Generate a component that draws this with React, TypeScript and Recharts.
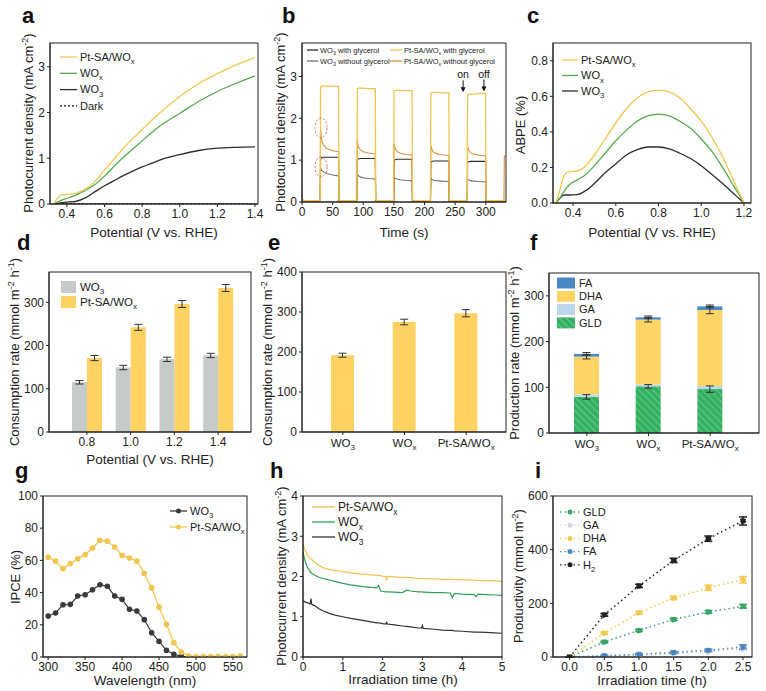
import React from 'react';
import { LineChart, Line, BarChart, Bar, XAxis, YAxis, ErrorBar, ReferenceDot } from 'recharts';

const FONT = '"Liberation Sans", Arial, Helvetica, sans-serif';
const INK = '#222222';

// ---------- panel a : LSV ----------
const aPot = [0.33, 0.35, 0.37, 0.40, 0.45, 0.50, 0.55, 0.60, 0.65, 0.70, 0.75, 0.80, 0.85, 0.90, 1.00, 1.10, 1.20, 1.30, 1.40];
const aPtSA = [0.0, 0.12, 0.20, 0.21, 0.24, 0.33, 0.50, 0.74, 0.98, 1.22, 1.43, 1.63, 1.83, 2.01, 2.35, 2.63, 2.85, 3.04, 3.20];
const aWOx = [0.0, 0.04, 0.08, 0.12, 0.20, 0.30, 0.43, 0.61, 0.82, 1.02, 1.20, 1.38, 1.56, 1.72, 1.98, 2.24, 2.46, 2.64, 2.80];
const aWO3 = [0.0, 0.01, 0.03, 0.04, 0.06, 0.14, 0.27, 0.40, 0.51, 0.62, 0.72, 0.81, 0.89, 0.97, 1.08, 1.17, 1.22, 1.24, 1.25];
const aDark = [0.0, 0.01, 0.01, 0.01, 0.01, 0.01, 0.01, 0.01, 0.01, 0.01, 0.01, 0.01, 0.01, 0.01, 0.01, 0.01, 0.01, 0.01, 0.01];

// ---------- panel b : chopped light ----------
const bTime = [0, 0.5, 3,
  29.7, 30.3, 32, 35, 40, 48, 59.7, 60.3, 63,
  89.7, 90.3, 92, 95, 100, 108, 119.7, 120.3, 123,
  149.7, 150.3, 152, 155, 160, 168, 179.7, 180.3, 183,
  209.7, 210.3, 212, 215, 220, 228, 239.7, 240.3, 243,
  269.7, 270.3, 272, 275, 280, 288, 299.7, 300.3, 303,
  329.7, 330.3, 333];
const bPtWith = [0.32, 0.08, 0.03,
  0.03, 2.74, 2.77, 2.77, 2.77, 2.77, 2.76, 0.06, 0.03,
  0.03, 2.70, 2.72, 2.72, 2.72, 2.71, 2.71, 0.06, 0.03,
  0.03, 2.65, 2.67, 2.67, 2.67, 2.66, 2.66, 0.06, 0.03,
  0.03, 2.60, 2.62, 2.62, 2.62, 2.61, 2.61, 0.06, 0.03,
  0.03, 2.56, 2.57, 2.58, 2.58, 2.59, 2.60, 0.06, 0.03,
  0.03, 0.03, 0.03];
const bWO3With = [0.12, 0.03, 0.02,
  0.02, 1.02, 1.06, 1.07, 1.07, 1.07, 1.07, 0.03, 0.02,
  0.02, 1.00, 1.03, 1.04, 1.04, 1.04, 1.04, 0.03, 0.02,
  0.02, 0.98, 1.01, 1.02, 1.02, 1.02, 1.02, 0.03, 0.02,
  0.02, 0.95, 0.97, 0.98, 0.98, 0.98, 0.98, 0.03, 0.02,
  0.02, 0.94, 0.96, 0.97, 0.97, 0.97, 0.97, 0.03, 0.02,
  0.02, 0.02, 0.02];
const bWO3Without = [0.08, 0.02, 0.01,
  0.01, 0.82, 0.76, 0.72, 0.68, 0.65, 0.62, 0.02, 0.01,
  0.01, 0.67, 0.63, 0.60, 0.58, 0.56, 0.55, 0.02, 0.01,
  0.01, 0.60, 0.57, 0.55, 0.53, 0.52, 0.51, 0.02, 0.01,
  0.01, 0.57, 0.54, 0.52, 0.51, 0.50, 0.49, 0.02, 0.01,
  0.01, 0.55, 0.53, 0.51, 0.50, 0.49, 0.48, 0.02, 0.01,
  0.01, 0.01, 0.01];
const bPtWithout = [0.18, 0.04, 0.02,
  0.02, 1.75, 1.48, 1.36, 1.28, 1.23, 1.20, 0.04, 0.02,
  0.02, 1.46, 1.32, 1.25, 1.20, 1.17, 1.15, 0.04, 0.02,
  0.02, 1.40, 1.28, 1.21, 1.17, 1.14, 1.12, 0.04, 0.02,
  0.02, 1.36, 1.25, 1.19, 1.15, 1.13, 1.11, 0.04, 0.02,
  0.02, 1.34, 1.24, 1.18, 1.14, 1.12, 1.10, 0.04, 0.02,
  0.02, 1.10, 1.10];

// ---------- panel c : ABPE ----------
const cPot = [0.32, 0.34, 0.36, 0.38, 0.42, 0.46, 0.50, 0.55, 0.60, 0.65, 0.70, 0.75, 0.80, 0.85, 0.90, 0.95, 1.00, 1.05, 1.10, 1.15, 1.20];
const cPtSA = [0, 0.08, 0.16, 0.175, 0.18, 0.21, 0.27, 0.36, 0.45, 0.53, 0.59, 0.625, 0.635, 0.625, 0.59, 0.53, 0.46, 0.37, 0.26, 0.13, 0];
const cWOx = [0, 0.03, 0.07, 0.10, 0.13, 0.16, 0.21, 0.28, 0.35, 0.41, 0.46, 0.49, 0.50, 0.49, 0.46, 0.42, 0.36, 0.29, 0.20, 0.10, 0];
const cWO3 = [0, 0.03, 0.045, 0.045, 0.047, 0.07, 0.11, 0.17, 0.22, 0.27, 0.30, 0.315, 0.315, 0.305, 0.28, 0.25, 0.21, 0.16, 0.11, 0.055, 0];

// ---------- panel d ----------
const dCats = ['0.8', '1.0', '1.2', '1.4'];
const dWO3 = [115, 149, 168, 177];
const dWO3Err = [4, 5, 5, 5];
const dPt = [171, 242, 296, 333];
const dPtErr = [6, 7, 8, 8];

// ---------- panel e ----------
const eCats = ['WO_{3}', 'WO_{x}', 'Pt-SA/WO_{x}'];
const eVal = [192, 275, 297];
const eErr = [5, 7, 9];

// ---------- panel f ----------
const fCats = ['WO_{3}', 'WO_{x}', 'Pt-SA/WO_{x}'];
const fGLD = [79, 102, 96];
const fGLDErr = [5, 4, 7];
const fGA = [5, 4, 7];
const fDHA = [83, 142, 166];
const fDHAErr = [5, 5, 8];
const fFA = [6, 5, 8];
const fFAErr = [3, 3, 3];

// ---------- panel g : IPCE ----------
const gWave = [300, 310, 320, 330, 340, 350, 360, 370, 380, 390, 400, 410, 420, 430, 440, 450, 460, 470, 480, 490, 500, 510, 520, 530, 540, 550, 560];
const gWO3 = [25.5, 27.3, 32.5, 32.7, 37.9, 38.7, 41.8, 44.9, 43.9, 37.9, 35.8, 29.6, 28.6, 23.2, 15.1, 9.7, 4.1, 1.7, 0.4, 0, null, null, null, null, null, null, null];
const gPt = [62, 59.6, 54.9, 58, 61, 63.6, 67.7, 72.5, 72, 68.3, 63.1, 61.5, 59.6, 51.8, 42.9, 31, 20.3, 8.9, 3.1, 0.6, 0.3, 0.3, 0.3, 0.3, 0.3, 0.3, 0.6];

// ---------- panel h : stability ----------
const hTime = [0, 0.05, 0.1, 0.18, 0.2, 0.22, 0.3, 0.4, 0.5, 0.6, 0.7, 0.8, 1.0, 1.2, 1.5, 1.85, 1.9, 1.95, 2.0, 2.08, 2.1, 2.12, 2.3, 2.5, 2.6, 2.7, 2.9, 2.98, 3.0, 3.02, 3.3, 3.5, 3.7, 3.75, 3.8, 4.0, 4.3, 4.35, 4.4, 4.6, 4.8, 5.0];
const hPt = [2.8, 2.65, 2.55, 2.45, 2.43, 2.42, 2.35, 2.28, 2.22, 2.19, 2.17, 2.15, 2.12, 2.09, 2.06, 2.03, 2.03, 2.02, 2.01, 2.0, 1.9, 2.0, 1.99, 1.98, 1.97, 1.97, 1.95, 1.95, 1.95, 1.95, 1.94, 1.93, 1.93, 1.93, 1.92, 1.92, 1.91, 1.91, 1.9, 1.9, 1.89, 1.88];
const hWOx = [2.6, 2.4, 2.25, 2.12, 2.1, 2.08, 2.03, 1.98, 1.95, 1.93, 1.9, 1.88, 1.83, 1.79, 1.75, 1.72, 1.78, 1.64, 1.63, 1.62, 1.62, 1.62, 1.61, 1.6, 1.66, 1.64, 1.62, 1.62, 1.62, 1.61, 1.6, 1.6, 1.59, 1.47, 1.58, 1.56, 1.55, 1.5, 1.56, 1.55, 1.54, 1.53];
const hWO3 = [1.4, 1.37, 1.35, 1.32, 1.45, 1.31, 1.27, 1.2, 1.15, 1.11, 1.07, 1.04, 1.0, 0.96, 0.91, 0.85, 0.85, 0.84, 0.83, 0.82, 0.86, 0.82, 0.8, 0.77, 0.76, 0.75, 0.72, 0.72, 0.78, 0.71, 0.69, 0.67, 0.66, 0.66, 0.65, 0.64, 0.62, 0.62, 0.62, 0.61, 0.6, 0.59];

// ---------- panel i : productivity ----------
const iTime = [0, 0.5, 1.0, 1.5, 2.0, 2.5];
const iGLD = [0, 56, 99, 140, 168, 189];
const iGLDErr = [1, 3, 4, 4, 5, 7];
const iGA = [0, 2, 6, 12, 20, 30];
const iGAErr = [0, 1, 1, 2, 2, 3];
const iDHA = [0, 89, 165, 220, 258, 288];
const iDHAErr = [1, 4, 5, 6, 10, 12];
const iFA = [0, 5, 10, 17, 25, 37];
const iFAErr = [0, 2, 2, 3, 4, 8];
const iH2 = [0, 157, 265, 360, 441, 507];
const iH2Err = [1, 5, 6, 8, 10, 15];

// ---------- tables ----------
const aData = aPot.map((p, i) => ({ p, pt: aPtSA[i], wox: aWOx[i], wo3: aWO3[i], dark: aDark[i] }));
const bData = bTime.map((t, i) => ({ t, ptW: bPtWith[i], wo3W: bWO3With[i], wo3N: bWO3Without[i], ptN: bPtWithout[i] }));
const cData = cPot.map((p, i) => ({ p, pt: cPtSA[i], wox: cWOx[i], wo3: cWO3[i] }));
const dData = dCats.map((c, i) => ({ c, wo3: dWO3[i], wo3e: dWO3Err[i], pt: dPt[i], pte: dPtErr[i] }));
const eData = eCats.map((c, i) => ({ c, v: eVal[i], e: eErr[i] }));
const fData = fCats.map((c, i) => ({ c, gld: fGLD[i], gldE: fGLDErr[i], ga: fGA[i], dha: fDHA[i], dhaE: fDHAErr[i], fa: fFA[i], faE: fFAErr[i] }));
const gData = gWave.map((w, i) => ({ w, wo3: gWO3[i], pt: gPt[i] }));
const hData = hTime.map((t, i) => ({ t, pt: hPt[i], wox: hWOx[i], wo3: hWO3[i] }));
const iData = iTime.map((t, i) => ({ t, gld: iGLD[i], gldE: iGLDErr[i], ga: iGA[i], gaE: iGAErr[i], dha: iDHA[i], dhaE: iDHAErr[i], fa: iFA[i], faE: iFAErr[i], h2: iH2[i], h2E: iH2Err[i] }));

// ---------- colours ----------
const C = {
  pt: '#f2c650', wox: '#54a94c', wo3: '#2d2d2d',
  bPtW: '#f3c34f', bPtN: '#dc8f3c', bWO3W: '#2b2b2b', bWO3N: '#707070',
  gray: '#c6cac9', yellow: '#fdd263',
  gld: '#34b062', gldLine: '#7bd198', ga: '#bcd6ec', dha: '#fdd466', fa: '#4a89c6',
  hPt: '#f0c24c', hWOx: '#2f9f5a', hWO3: '#333333',
  iGLD: '#3aa468', iGA: '#d3d7e0', iDHA: '#f5c94f', iFA: '#4a86c0', iH2: '#222222',
};

// ---------- layout ----------
type Rect = { x: number; y: number; w: number; h: number };
const rA: Rect = { x: 50, y: 43, w: 208, h: 161 };
const rB: Rect = { x: 302, y: 43, w: 204, h: 159 };
const rC: Rect = { x: 553, y: 43, w: 198, h: 160 };
const rD: Rect = { x: 49, y: 272, w: 202, h: 160 };
const rE: Rect = { x: 302, y: 272, w: 204, h: 160 };
const rF: Rect = { x: 549, y: 273, w: 210, h: 160 };
const rG: Rect = { x: 43, y: 496, w: 204, h: 161 };
const rH: Rect = { x: 303, y: 496, w: 199, h: 161 };
const rI: Rect = { x: 553, y: 496, w: 199, h: 161 };
const ML = 45, MT = 10, MR = 12, MB = 26;

const dims = (r: Rect) => ({ width: r.w + ML + MR, height: r.h + MT + MB, margin: { top: MT, right: MR, bottom: 0, left: 0 } });
const Holder = ({ r, children }: { r: Rect; children: React.ReactNode }) => (
  <div style={{ position: 'absolute', left: r.x - ML, top: r.y - MT }}>{children}</div>
);

const TICK = { fontSize: 12, fill: INK, fontFamily: FONT };
const ax = { stroke: INK, tick: TICK, tickSize: 3, tickMargin: 2, interval: 0 as const };
const f1 = (v: number) => v.toFixed(1);

function rich(text: string, fs: number) {
  const out: React.ReactNode[] = [];
  const re = /([_^])\{([^}]*)\}/g;
  let last = 0, cur = 0, k = 0;
  let m: RegExpExecArray | null;
  const push = (s: string, target: number, size: number) => {
    out.push(<tspan key={k++} dy={target - cur} fontSize={size}>{s}</tspan>);
    cur = target;
  };
  while ((m = re.exec(text))) {
    if (m.index > last) push(text.slice(last, m.index), 0, fs);
    push(m[2], m[1] === '_' ? fs * 0.3 : -fs * 0.4, fs * 0.7);
    last = re.lastIndex;
  }
  if (last < text.length) push(text.slice(last), 0, fs);
  return out;
}

const ChemTick = (props: any) => {
  const { x, y, payload } = props;
  return (
    <text x={x} y={y + 9.5} textAnchor="middle" fontSize={11.5} fill={INK} fontFamily={FONT}>
      {rich(String(payload.value), 11.5)}
    </text>
  );
};

type LegItem = { label: string; color: string; kind?: 'line' | 'rect'; dash?: string; marker?: boolean; fill?: string };
function Leg({ x, y, rowH, fs, sw, sh = 10, gap = 3, items }: { x: number; y: number; rowH: number; fs: number; sw: number; sh?: number; gap?: number; items: LegItem[] }) {
  return (
    <g>
      {items.map((it, i) => {
        const cy = y + i * rowH;
        return (
          <g key={i}>
            {it.kind === 'rect'
              ? <rect x={x} y={cy - sh / 2} width={sw} height={sh} fill={it.fill ?? it.color} />
              : <line x1={x} x2={x + sw} y1={cy} y2={cy} stroke={it.color} strokeWidth={1.3} strokeDasharray={it.dash} />}
            {it.marker && <circle cx={x + sw / 2} cy={cy} r={2.5} fill={it.color} />}
            <text x={x + sw + gap} y={cy + fs * 0.35} fontSize={fs} fill={INK} fontFamily={FONT}>{rich(it.label, fs)}</text>
          </g>
        );
      })}
    </g>
  );
}

const YTitle = ({ cx, cy, text }: { cx: number; cy: number; text: string }) => (
  <text transform={`translate(${cx},${cy}) rotate(-90)`} x={0} y={4.4} textAnchor="middle" fontSize={13} fill={INK} fontFamily={FONT}>{rich(text, 13)}</text>
);
const XTitle = ({ cx, y, text }: { cx: number; y: number; text: string }) => (
  <text x={cx} y={y} textAnchor="middle" fontSize={13.5} fill={INK} fontFamily={FONT}>{text}</text>
);
const PLabel = ({ x, y, t }: { x: number; y: number; t: string }) => (
  <text x={x} y={y} fontSize={22} fontWeight="bold" fill="#111" fontFamily={FONT}>{t}</text>
);

const Ellipse = (p: any) => <ellipse cx={p.cx} cy={p.cy} rx={6} ry={10} fill="none" stroke="#d9534f" strokeWidth={0.9} strokeDasharray="2 2" />;
const Arrow = (label: string) => (p: any) => (
  <g>
    <line x1={p.cx} x2={p.cx} y1={p.cy - 12} y2={p.cy - 4} stroke="#111" strokeWidth={1} />
    <polygon points={`${p.cx - 2.5},${p.cy - 5} ${p.cx + 2.5},${p.cy - 5} ${p.cx},${p.cy}`} fill="#111" />
    <text x={p.cx} y={p.cy - 14} textAnchor="middle" fontSize={10.5} fill="#111" fontFamily={FONT}>{label}</text>
  </g>
);

export default function App() {
  const frames = [rA, rB, rC, rD, rE, rF, rG, rH, rI];
  return (
    <div style={{ position: 'absolute', left: 0, top: 0, width: 766, height: 691, background: '#fff', fontFamily: FONT, overflow: 'hidden' }}>
      <svg width={0} height={0} style={{ position: 'absolute' }}>
        <defs>
          <pattern id="gldHatch" patternUnits="userSpaceOnUse" width={5} height={5} patternTransform="rotate(-45)">
            <rect width={5} height={5} fill={C.gld} />
            <line x1={0} y1={0} x2={0} y2={5} stroke={C.gldLine} strokeWidth={1.4} />
          </pattern>
        </defs>
      </svg>

      {/* a */}
      <Holder r={rA}>
        <LineChart {...dims(rA)} data={aData}>
          <XAxis type="number" dataKey="p" domain={[0.31, 1.416]} ticks={[0.4, 0.6, 0.8, 1.0, 1.2, 1.4]} tickFormatter={f1} allowDataOverflow height={MB} {...ax} />
          <YAxis type="number" domain={[0, 3.52]} ticks={[0, 1, 2, 3]} allowDataOverflow width={ML} {...ax} />
          <Line dataKey="dark" stroke="#111" strokeDasharray="2 2" dot={false} strokeWidth={1.2} isAnimationActive={false} />
          <Line type="monotone" dataKey="wo3" stroke={C.wo3} dot={false} strokeWidth={1.3} isAnimationActive={false} />
          <Line type="monotone" dataKey="wox" stroke={C.wox} dot={false} strokeWidth={1.3} isAnimationActive={false} />
          <Line type="monotone" dataKey="pt" stroke={C.pt} dot={false} strokeWidth={1.3} isAnimationActive={false} />
        </LineChart>
      </Holder>

      {/* b */}
      <Holder r={rB}>
        <LineChart {...dims(rB)} data={bData}>
          <XAxis type="number" dataKey="t" domain={[0, 333]} ticks={[0, 50, 100, 150, 200, 250, 300]} allowDataOverflow height={MB} {...ax} />
          <YAxis type="number" domain={[0, 3.8]} ticks={[0, 1, 2, 3]} allowDataOverflow width={ML} {...ax} />
          <Line dataKey="wo3N" stroke={C.bWO3N} dot={false} strokeWidth={1.1} isAnimationActive={false} />
          <Line dataKey="wo3W" stroke={C.bWO3W} dot={false} strokeWidth={1.1} isAnimationActive={false} />
          <Line dataKey="ptN" stroke={C.bPtN} dot={false} strokeWidth={1.1} isAnimationActive={false} />
          <Line dataKey="ptW" stroke={C.bPtW} dot={false} strokeWidth={1.3} isAnimationActive={false} />
          <ReferenceDot x={31} y={1.77} r={6} shape={Ellipse} />
          <ReferenceDot x={31} y={0.84} r={6} shape={Ellipse} />
          <ReferenceDot x={263} y={2.62} r={3} shape={Arrow('on')} />
          <ReferenceDot x={297} y={2.64} r={3} shape={Arrow('off')} />
        </LineChart>
      </Holder>

      {/* c */}
      <Holder r={rC}>
        <LineChart {...dims(rC)} data={cData}>
          <XAxis type="number" dataKey="p" domain={[0.306, 1.233]} ticks={[0.4, 0.6, 0.8, 1.0, 1.2]} tickFormatter={f1} allowDataOverflow height={MB} {...ax} />
          <YAxis type="number" domain={[0, 0.9]} ticks={[0, 0.2, 0.4, 0.6, 0.8]} tickFormatter={f1} allowDataOverflow width={ML} {...ax} />
          <Line type="monotone" dataKey="wo3" stroke={C.wo3} dot={false} strokeWidth={1.3} isAnimationActive={false} />
          <Line type="monotone" dataKey="wox" stroke={C.wox} dot={false} strokeWidth={1.3} isAnimationActive={false} />
          <Line type="monotone" dataKey="pt" stroke={C.pt} dot={false} strokeWidth={1.3} isAnimationActive={false} />
        </LineChart>
      </Holder>

      {/* d */}
      <Holder r={rD}>
        <BarChart {...dims(rD)} data={dData} barGap={0}>
          <XAxis dataKey="c" padding={{ left: 16, right: 11 }} height={MB} {...ax} />
          <YAxis type="number" domain={[0, 370]} ticks={[0, 100, 200, 300]} allowDataOverflow width={ML} {...ax} />
          <Bar dataKey="wo3" fill={C.gray} barSize={15} isAnimationActive={false}>
            <ErrorBar dataKey="wo3e" width={4} stroke="#333" strokeWidth={1} direction="y" />
          </Bar>
          <Bar dataKey="pt" fill={C.yellow} barSize={15} isAnimationActive={false}>
            <ErrorBar dataKey="pte" width={4} stroke="#333" strokeWidth={1} direction="y" />
          </Bar>
        </BarChart>
      </Holder>

      {/* e */}
      <Holder r={rE}>
        <BarChart {...dims(rE)} data={eData}>
          <XAxis dataKey="c" padding={{ left: 10, right: 9 }} height={MB} {...ax} tick={<ChemTick />} />
          <YAxis type="number" domain={[0, 400]} ticks={[0, 100, 200, 300, 400]} allowDataOverflow width={ML} {...ax} />
          <Bar dataKey="v" fill={C.yellow} barSize={23} isAnimationActive={false}>
            <ErrorBar dataKey="e" width={4} stroke="#333" strokeWidth={1} direction="y" />
          </Bar>
        </BarChart>
      </Holder>

      {/* f */}
      <Holder r={rF}>
        <BarChart {...dims(rF)} data={fData}>
          <XAxis dataKey="c" padding={{ left: 7, right: 18 }} height={MB} {...ax} tick={<ChemTick />} />
          <YAxis type="number" domain={[0, 350]} ticks={[0, 100, 200, 300]} allowDataOverflow width={ML} {...ax} />
          <Bar dataKey="gld" stackId="s" fill="url(#gldHatch)" barSize={25} isAnimationActive={false}>
            <ErrorBar dataKey="gldE" width={4} stroke="#333" strokeWidth={1} direction="y" />
          </Bar>
          <Bar dataKey="ga" stackId="s" fill={C.ga} barSize={25} isAnimationActive={false} />
          <Bar dataKey="dha" stackId="s" fill={C.dha} barSize={25} isAnimationActive={false}>
            <ErrorBar dataKey="dhaE" width={4} stroke="#333" strokeWidth={1} direction="y" />
          </Bar>
          <Bar dataKey="fa" stackId="s" fill={C.fa} barSize={25} isAnimationActive={false}>
            <ErrorBar dataKey="faE" width={4} stroke="#333" strokeWidth={1} direction="y" />
          </Bar>
        </BarChart>
      </Holder>

      {/* g */}
      <Holder r={rG}>
        <LineChart {...dims(rG)} data={gData}>
          <XAxis type="number" dataKey="w" domain={[293, 569]} ticks={[300, 350, 400, 450, 500, 550]} allowDataOverflow height={MB} {...ax} />
          <YAxis type="number" domain={[0, 100]} ticks={[0, 20, 40, 60, 80, 100]} allowDataOverflow width={ML} {...ax} />
          <Line dataKey="wo3" stroke="#3a3a3a" strokeWidth={1.2} dot={{ r: 2.2, fill: '#3a3a3a', stroke: '#3a3a3a' }} isAnimationActive={false} />
          <Line dataKey="pt" stroke={C.pt} strokeWidth={1.3} dot={{ r: 2.2, fill: C.pt, stroke: C.pt }} isAnimationActive={false} />
        </LineChart>
      </Holder>

      {/* h */}
      <Holder r={rH}>
        <LineChart {...dims(rH)} data={hData}>
          <XAxis type="number" dataKey="t" domain={[0, 5]} ticks={[0, 1, 2, 3, 4, 5]} allowDataOverflow height={MB} {...ax} />
          <YAxis type="number" domain={[0, 4]} ticks={[0, 1, 2, 3, 4]} allowDataOverflow width={ML} {...ax} />
          <Line dataKey="wo3" stroke={C.hWO3} dot={false} strokeWidth={1.2} isAnimationActive={false} />
          <Line dataKey="wox" stroke={C.hWOx} dot={false} strokeWidth={1.2} isAnimationActive={false} />
          <Line dataKey="pt" stroke={C.hPt} dot={false} strokeWidth={1.2} isAnimationActive={false} />
        </LineChart>
      </Holder>

      {/* i */}
      <Holder r={rI}>
        <LineChart {...dims(rI)} data={iData}>
          <XAxis type="number" dataKey="t" domain={[-0.24, 2.63]} ticks={[0, 0.5, 1.0, 1.5, 2.0, 2.5]} tickFormatter={f1} allowDataOverflow height={MB} {...ax} />
          <YAxis type="number" domain={[0, 600]} ticks={[0, 200, 400, 600]} allowDataOverflow width={ML} {...ax} />
          <Line dataKey="ga" stroke={C.iGA} strokeDasharray="1.5 3" strokeWidth={1.5} dot={{ r: 2.6, fill: C.iGA, stroke: C.iGA }} isAnimationActive={false}>
            <ErrorBar dataKey="gaE" width={4} stroke={C.iGA} direction="y" />
          </Line>
          <Line dataKey="fa" stroke={C.iFA} strokeDasharray="1.5 3" strokeWidth={1.5} dot={{ r: 2.6, fill: C.iFA, stroke: C.iFA }} isAnimationActive={false}>
            <ErrorBar dataKey="faE" width={4} stroke={C.iFA} direction="y" />
          </Line>
          <Line dataKey="gld" stroke={C.iGLD} strokeDasharray="1.5 3" strokeWidth={1.5} dot={{ r: 2.6, fill: C.iGLD, stroke: C.iGLD }} isAnimationActive={false}>
            <ErrorBar dataKey="gldE" width={4} stroke={C.iGLD} direction="y" />
          </Line>
          <Line dataKey="dha" stroke={C.iDHA} strokeDasharray="1.5 3" strokeWidth={1.5} dot={{ r: 2.6, fill: C.iDHA, stroke: C.iDHA }} isAnimationActive={false}>
            <ErrorBar dataKey="dhaE" width={4} stroke={C.iDHA} direction="y" />
          </Line>
          <Line dataKey="h2" stroke={C.iH2} strokeDasharray="1.5 3" strokeWidth={1.5} dot={{ r: 2.6, fill: C.iH2, stroke: C.iH2 }} isAnimationActive={false}>
            <ErrorBar dataKey="h2E" width={4} stroke={C.iH2} direction="y" />
          </Line>
        </LineChart>
      </Holder>

      {/* overlay: frames, titles, legends, panel letters */}
      <svg width={766} height={691} style={{ position: 'absolute', left: 0, top: 0, pointerEvents: 'none', overflow: 'visible' }}>
        {frames.map((r, i) => (
          <rect key={i} x={r.x} y={r.y} width={r.w} height={r.h} fill="none" stroke={INK} strokeWidth={1} />
        ))}

        <PLabel x={22} y={23} t="a" />
        <PLabel x={282} y={23} t="b" />
        <PLabel x={527} y={23} t="c" />
        <PLabel x={17} y={250} t="d" />
        <PLabel x={268} y={250} t="e" />
        <PLabel x={530} y={250} t="f" />
        <PLabel x={15} y={478} t="g" />
        <PLabel x={270} y={478} t="h" />
        <PLabel x={535} y={478} t="i" />

        <XTitle cx={154} y={237} text="Potential (V vs. RHE)" />
        <XTitle cx={404} y={237} text="Time (s)" />
        <XTitle cx={652} y={237} text="Potential (V vs. RHE)" />
        <XTitle cx={150} y={464} text="Potential (V vs. RHE)" />
        <XTitle cx={145} y={685} text="Wavelength (nm)" />
        <XTitle cx={403} y={684} text="Irradiation time (h)" />
        <XTitle cx={652} y={685} text="Irradiation time (h)" />

        <YTitle cx={29} cy={123} text="Photocurrent density (mA cm^{-2})" />
        <YTitle cx={281} cy={122} text="Photocurrent density (mA cm^{-2})" />
        <YTitle cx={521} cy={125} text="ABPE (%)" />
        <YTitle cx={15} cy={352} text="Consumption rate (mmol m^{-2} h^{-1})" />
        <YTitle cx={268} cy={352} text="Consumption rate (mmol m^{-2} h^{-1})" />
        <YTitle cx={515} cy={353} text="Production rate (mmol m^{-2} h^{-1})" />
        <YTitle cx={16} cy={577} text="IPCE (%)" />
        <YTitle cx={282} cy={576} text="Photocurrent density (mA cm^{-2})" />
        <YTitle cx={519} cy={576} text="Productivity (mmol m^{-2})" />

        <Leg x={60} y={57} rowH={16.3} fs={11} sw={17} items={[
          { label: 'Pt-SA/WO_{x}', color: C.pt },
          { label: 'WO_{x}', color: C.wox },
          { label: 'WO_{3}', color: C.wo3 },
          { label: 'Dark', color: '#111', dash: '2 2' },
        ]} />
        <Leg x={307} y={50} rowH={11} fs={7.5} sw={11} gap={2} items={[
          { label: 'WO_{3} with glycerol', color: C.bWO3W },
          { label: 'WO_{3} without glycerol', color: C.bWO3N },
        ]} />
        <Leg x={390} y={50} rowH={11} fs={7.5} sw={12} gap={2} items={[
          { label: 'Pt-SA/WO_{x} with glycerol', color: C.bPtW },
          { label: 'Pt-SA/WO_{x} without glycerol', color: C.bPtN },
        ]} />
        <Leg x={562} y={60} rowH={15.5} fs={11} sw={16} items={[
          { label: 'Pt-SA/WO_{x}', color: C.pt },
          { label: 'WO_{x}', color: C.wox },
          { label: 'WO_{3}', color: C.wo3 },
        ]} />
        <Leg x={61} y={287} rowH={15} fs={11.5} sw={15} sh={12} gap={4} items={[
          { label: 'WO_{3}', color: C.gray, kind: 'rect' },
          { label: 'Pt-SA/WO_{x}', color: C.yellow, kind: 'rect' },
        ]} />
        <Leg x={557} y={283} rowH={13.3} fs={11} sw={18} sh={11} gap={4} items={[
          { label: 'FA', color: C.fa, kind: 'rect' },
          { label: 'DHA', color: C.dha, kind: 'rect' },
          { label: 'GA', color: C.ga, kind: 'rect' },
          { label: 'GLD', color: C.gld, kind: 'rect', fill: 'url(#gldHatch)' },
        ]} />
        <Leg x={170} y={511} rowH={16} fs={11} sw={17} items={[
          { label: 'WO_{3}', color: '#3a3a3a', marker: true },
          { label: 'Pt-SA/WO_{x}', color: C.pt, marker: true },
        ]} />
        <Leg x={312} y={507} rowH={15} fs={12} sw={23} items={[
          { label: 'Pt-SA/WO_{x}', color: C.hPt },
          { label: 'WO_{x}', color: C.hWOx },
          { label: 'WO_{3}', color: C.hWO3 },
        ]} />
        <Leg x={560} y={512} rowH={13.2} fs={11} sw={20} items={[
          { label: 'GLD', color: C.iGLD, dash: '1.5 3', marker: true },
          { label: 'GA', color: C.iGA, dash: '1.5 3', marker: true },
          { label: 'DHA', color: C.iDHA, dash: '1.5 3', marker: true },
          { label: 'FA', color: C.iFA, dash: '1.5 3', marker: true },
          { label: 'H_{2}', color: C.iH2, dash: '1.5 3', marker: true },
        ]} />
      </svg>
    </div>
  );
}
